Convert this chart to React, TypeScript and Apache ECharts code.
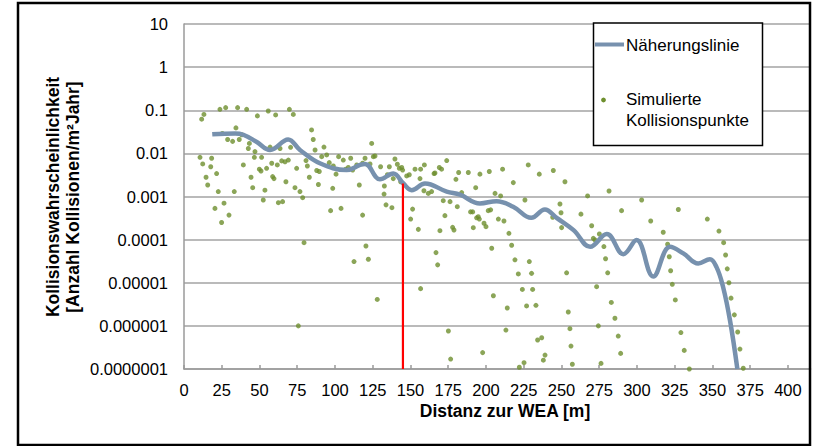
import React, { useEffect, useRef } from "react";
import * as echarts from "echarts";

const FONT = "'Liberation Sans', Arial, sans-serif";

// Simulated collision points: distance [m] and probability [collisions/m²·year]
const pointDistance: number[] = [
  11.7, 13.2, 23.8, 27.6, 35.5, 41.5, 48.6, 55.8, 60.7, 69.8, 72.4, 84.5, 85.6, 25.4, 34.4, 28.9, 32.2, 36.6, 38.2, 43.3,
  42.6, 47.0, 46.6, 51.4, 57.0, 63.6, 70.6, 10.6, 12.4, 17.7, 18.3, 14.6, 15.7, 21.6, 22.7, 20.5, 26.5, 29.8, 24.9, 33.3,
  39.3, 44.4, 45.5, 49.9, 51.0, 54.7, 53.6, 52.5, 58.1, 58.7, 59.6, 61.8, 64.7, 66.9, 69.1, 67.5, 62.5, 65.3, 74.6, 73.5,
  76.8, 78.6, 80.8, 81.7, 83.0, 86.8, 87.9, 89.6, 89.0, 91.2, 92.7, 94.5, 96.2, 98.9, 100.7, 98.5, 97.1, 102.4, 105.5, 107.1,
  108.8, 110.4, 111.7, 114.4, 118.3, 119.9, 124.3, 125.4, 126.5, 116.1, 118.3, 104.0, 123.2,
  79.5, 120.5, 112.6, 122.1, 128.0, 75.7,
  130.2, 134.7, 136.0, 139.7, 141.3, 142.6, 144.2, 144.8, 143.5, 138.6, 132.7, 132.5, 133.8, 137.7, 147.5, 149.2, 153.0, 156.7,
  159.2, 156.3, 158.9, 161.8, 164.0, 165.6, 166.2, 169.1, 170.6, 174.0, 181.9, 188.3, 180.1, 196.0, 202.2, 211.0, 228.0, 235.3,
  244.6, 218.1, 193.2, 183.9, 206.0, 209.7, 171.7, 176.2, 181.0, 189.8, 191.2, 201.5, 203.1, 225.8, 151.4, 150.1, 155.2, 172.8,
  177.9, 178.8, 169.5, 191.6, 193.8, 195.6, 194.9, 198.7, 200.0, 208.2, 211.9, 215.2, 217.0, 203.8, 244.2, 166.9, 168.0, 219.2,
  228.7, 221.4, 230.2,
  156.7, 204.9, 214.1, 224.1, 230.9, 226.9, 233.1, 175.1, 213.2, 234.2, 236.9, 197.8, 176.6, 239.1, 238.0, 225.2, 222.1,
  252.3, 249.0, 249.7, 250.1, 267.3, 281.5, 303.1, 289.8, 262.9, 270.0, 275.1, 271.1, 272.2, 278.1, 279.2, 280.6, 309.1, 317.4,
  327.4, 346.6, 354.3, 357.4, 358.7, 359.8, 360.9, 362.3, 364.5, 366.7, 368.2, 370.4, 320.3, 321.4, 322.3, 323.4, 325.4, 329.1,
  331.3, 334.7, 253.4, 273.3, 283.0, 285.4, 287.6, 289.2, 276.2, 274.4, 254.5, 255.6, 256.3, 257.2,
];
const pointProbability: number[] = [
  0.062, 0.08, 0.105, 0.115, 0.115, 0.105, 0.074, 0.096, 0.078, 0.105, 0.08, 0.035, 0.021, 0.029, 0.039, 0.021, 0.019, 0.021, 0.027, 0.017,
  0.013, 0.011, 0.0081, 0.0081, 0.014, 0.013, 0.0138, 0.0081, 0.0057, 0.0049, 0.0077, 0.0028, 0.00185, 0.0034, 0.0013, 0.00053, 0.0007, 0.00037, 0.00025, 0.0013,
  0.0054, 0.0028, 0.0016, 0.0043, 0.0039, 0.0045, 0.0014, 0.00083, 0.0059, 0.0029, 0.0026, 0.0054, 0.0067, 0.0064, 0.007, 0.0022, 0.00072, 0.00076, 0.0045, 0.0016,
  0.0013, 0.00094, 0.0068, 0.0051, 0.0028, 0.012, 0.004, 0.0038, 0.0019, 0.0084, 0.014, 0.0092, 0.0061, 0.0051, 0.0033, 0.00155, 0.00047, 0.0084, 0.007, 0.0043,
  0.0047, 0.0077, 0.0041, 0.0054, 0.0059, 0.0077, 0.017, 0.0084, 0.0087, 0.00185, 0.00037, 0.00053, 0.0057,
  0.000085, 0.000071, 0.000031, 0.000035, 0.0000041, 0.000001,
  0.0049, 0.0032, 0.0049, 0.0074, 0.0056, 0.0045, 0.0047, 0.0041, 0.0022, 0.0026, 0.00175, 0.00114, 0.00064, 0.00055, 0.003, 0.0032, 0.0043, 0.0043,
  0.0054, 0.0026, 0.00136, 0.00118, 0.0013, 0.0034, 0.0035, 0.0047, 0.0043, 0.0068, 0.0036, 0.0036, 0.0025, 0.0033, 0.0038, 0.0043, 0.0054, 0.0033,
  0.004, 0.0021, 0.0016, 0.00123, 0.00118, 0.00103, 0.0008, 0.00076, 0.00058, 0.00044, 0.00044, 0.00047, 0.00049, 0.00083, 0.00051, 0.0003, 0.000173, 0.00036,
  0.000193, 0.000167, 0.000161, 0.000189, 0.00032, 0.0003, 0.00034, 0.00024, 0.0002, 0.0003, 0.00027, 0.00014, 0.000074, 0.000063, 0.00033, 0.00005, 0.000026, 0.000034,
  0.000031, 0.000016, 0.0000165,
  0.0000073, 0.000005, 0.0000026, 0.000007, 0.000007, 0.0000029, 0.000003, 0.00000076, 0.0000008, 0.00000047, 0.00000053, 0.00000024, 0.00000017, 0.00000021, 0.00000016, 0.00000014, 0.00000011,
  0.0022, 0.00067, 0.00042, 0.00019, 0.00103, 0.00134, 0.00083, 0.00047, 0.00039, 0.00021, 0.000135, 0.000107, 0.000098, 0.000069, 0.000036, 0.000017, 0.00027, 0.000148,
  0.0005, 0.0003, 0.000158, 0.000085, 0.000044, 0.000021, 0.00001, 0.0000044, 0.0000018, 0.00000072, 0.00000029, 0.000000104, 0.000078, 0.00004, 0.000019, 0.0000092, 0.000004, 0.0000007,
  0.00000027, 0.0000001, 0.000017, 0.0000081, 0.0000035, 0.0000015, 0.00000058, 0.00000023, 0.000000135, 0.000001, 0.0000021, 0.00000086, 0.00000034, 0.000000129,
];

// Approximation line (Näherungslinie)
const curveDistance: number[] = [
  18.7, 33.8, 39.3, 48, 57, 69, 76.8, 90, 107.7, 116.6, 119.9, 129.8, 138.6, 145.3, 150.8, 159.6, 174, 182.8, 196, 207,
  218, 230, 239, 246.8, 258, 269, 280, 291, 299.7, 310.8, 321.9, 330.7, 340.6, 348.3, 352.7, 357, 361.6, 366.5,
];
const curveProbability: number[] = [
  0.0276, 0.029, 0.027, 0.0186, 0.012, 0.021, 0.012, 0.0059, 0.0041, 0.0054, 0.0057, 0.0025, 0.0034, 0.002, 0.0014, 0.002, 0.0013, 0.0011, 0.00069, 0.00078,
  0.00058, 0.00032, 0.0005, 0.00032, 0.000166, 0.000068, 0.000135, 0.000046, 0.000098, 0.000014, 0.000068, 0.000048, 0.000028, 0.000035, 0.000023, 0.0000081, 0.00000135, 0.0000001,
];

// Red marker line
const markerDistance = 145;
const markerProbability = 0.002;

const yLabels = ["10", "1", "0.1", "0.01", "0.001", "0.0001", "0.00001", "0.000001", "0.0000001"];

const LINE_COLOR = "#7791AE";
const DOT_COLOR = "#6E8F2E";
const GRID_COLOR = "#a3a3a3";

export default function App() {
  const ref = useRef<HTMLDivElement>(null);
  useEffect(() => {
    if (!ref.current) return;
    const chart = echarts.init(ref.current, undefined, { renderer: "svg" });
    const scatterData = pointDistance.map((d, i) => [d, pointProbability[i]]);
    const curveData = curveDistance.map((d, i) => [d, curveProbability[i]]);
    chart.setOption({
      animation: false,
      backgroundColor: "#fff",
      grid: { left: 184, top: 24, right: 5.4, bottom: 77, containLabel: false },
      xAxis: {
        type: "value",
        min: 0,
        max: 415,
        interval: 25,
        axisLine: { show: true, lineStyle: { color: "#9a9a9a", width: 1.5 } },
        axisTick: { show: true, inside: true, length: 4, lineStyle: { color: "#9a9a9a", width: 1.5 } },
        axisLabel: { color: "#000", fontSize: 16.5, fontFamily: FONT, margin: 12, showMaxLabel: false },
        splitLine: { show: false },
      },
      yAxis: {
        type: "log",
        logBase: 10,
        min: 1e-7,
        max: 10,
        interval: 1,
        axisLine: { show: true, lineStyle: { color: "#9a9a9a", width: 1.5 } },
        axisTick: { show: false },
        axisLabel: {
          color: "#000",
          fontSize: 16.5,
          fontFamily: FONT,
          margin: 16,
          formatter: (v: number) => {
            const e = Math.round(Math.log10(v));
            return yLabels[1 - e] ?? String(v);
          },
        },
        splitLine: { show: true, lineStyle: { color: GRID_COLOR, width: 1.5 } },
      },
      series: [
        {
          type: "scatter",
          name: "Simulierte Kollisionspunkte",
          data: scatterData,
          symbol: "circle",
          symbolSize: 5,
          itemStyle: { color: DOT_COLOR },
          z: 2,
        },
        {
          type: "line",
          name: "Näherungslinie",
          data: curveData,
          smooth: 0.4,
          showSymbol: false,
          symbol: "none",
          lineStyle: { color: LINE_COLOR, width: 4.5 },
          z: 3,
        },
        {
          type: "line",
          name: "Marker",
          data: [
            [markerDistance, 1e-7],
            [markerDistance, markerProbability],
          ],
          showSymbol: false,
          symbol: "none",
          lineStyle: { color: "#ff0000", width: 2.2 },
          z: 4,
        },
      ],
      graphic: [
        {
          type: "rect",
          shape: { x: 18, y: 3, width: 792, height: 442 },
          style: { fill: "none", stroke: "#000", lineWidth: 2.5 },
          z: 100,
        },
        {
          type: "rect",
          shape: { x: 593.5, y: 23, width: 169, height: 122.5 },
          style: { fill: "#fff", stroke: "#000", lineWidth: 1.5 },
          z: 50,
        },
        {
          type: "line",
          shape: { x1: 595, y1: 44.5, x2: 624, y2: 44.5 },
          style: { stroke: LINE_COLOR, lineWidth: 4 },
          z: 51,
        },
        {
          type: "circle",
          shape: { cx: 603.5, cy: 100, r: 2.4 },
          style: { fill: DOT_COLOR },
          z: 51,
        },
        {
          type: "text",
          x: 626,
          y: 45,
          style: { text: "Näherungslinie", font: `17px ${FONT}`, fill: "#000", textVerticalAlign: "middle" },
          z: 51,
        },
        {
          type: "text",
          x: 626,
          y: 110,
          style: {
            text: "Simulierte\nKollisionspunkte",
            font: `17px ${FONT}`,
            lineHeight: 21,
            fill: "#000",
            textVerticalAlign: "middle",
          },
          z: 51,
        },
        {
          type: "text",
          x: 63,
          y: 197,
          rotation: Math.PI / 2,
          style: {
            text: "Kollisionswahrscheinlichkeit\n[Anzahl Kollisionen/m²Jahr]",
            font: `bold 17.5px ${FONT}`,
            lineHeight: 20,
            fill: "#000",
            textAlign: "center",
            textVerticalAlign: "middle",
          },
          z: 51,
        },
        {
          type: "text",
          x: 505,
          y: 411,
          style: {
            text: "Distanz zur WEA [m]",
            font: `bold 17.5px ${FONT}`,
            fill: "#000",
            textAlign: "center",
            textVerticalAlign: "middle",
          },
          z: 51,
        },
      ],
    });
    return () => chart.dispose();
  }, []);
  return (
    <div
      ref={ref}
      style={{ position: "fixed", left: 0, top: 0, width: 816, height: 446, background: "#fff" }}
    />
  );
}
